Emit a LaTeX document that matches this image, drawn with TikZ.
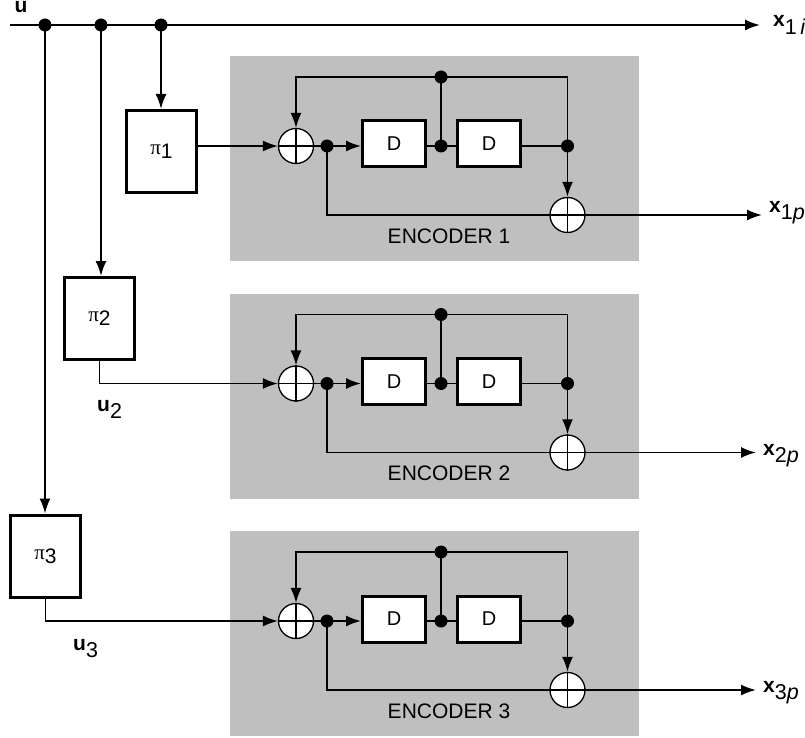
\documentclass[tikz,border=0pt]{standalone}
\usepackage{fontspec}
\setmainfont{Liberation Sans}
\newfontfamily\pifont{Liberation Serif}
\usetikzlibrary{arrows.meta}
\newcommand{\boldsub}[3]{\textbf{\fontsize{21}{21}\selectfont #1}\raisebox{-7.5pt}{\fontsize{21.5}{22}\selectfont #2\textit{#3}}}
\newcommand{\pisub}[1]{{\pifont\fontsize{21}{21}\selectfont\raisebox{.2em}{π}}{\fontsize{21}{21}\selectfont #1}}
\tikzset{
	blockbox/.style={draw,line width=3,fill=white,inner sep=0,text=black},
	interbox/.style={blockbox,minimum width=70,minimum height=82},
	delaybox/.style={blockbox,minimum width=63,minimum height=46,font=\fontsize{20}{20}\selectfont},
	sumnode/.style={draw,circle,line width=1.3,fill=white,minimum size=35,inner sep=0},
	wire/.style={line width=1.4},
	mainwire/.style={line width=1.9},
	outlabel/.style={anchor=base west,inner sep=0}
}
\begin{document}
\begin{tikzpicture}[x=1pt,y=-1pt,>={Latex[length=15,width=11]}]
	\useasboundingbox(0,0)rectangle(805,738);
	\coordinate(start)at(10,25);
	\coordinate(T1)at(161,25);
	\coordinate(T2)at(101,25);
	\coordinate(T3)at(45,25);
	\coordinate(end)at(760,25);
	\node[interbox](pi1)at(161.5,151.5){\pisub{1}};
	\node[interbox](pi2)at(99.5,318.5){\pisub{2}};
	\node[interbox](pi3)at(45.5,556){\pisub{3}};
	\foreach\i/\off/\tip in{1/0/762,2/237.5/756,3/475/756}{
		\begin{scope}[shift={(0,\off)}]
			\fill[black!25](230,56)rectangle(639,261);
			\node[sumnode](S\i)at(296,146){};
			\node[sumnode](R\i)at(567.5,215){};
			\node[delaybox](Da\i)at(394,144){D};
			\node[delaybox](Db\i)at(489,144){D};
			\coordinate(A\i)at(327,146);
			\coordinate(B\i)at(441,146);
			\coordinate(C\i)at(567.5,146);
			\coordinate(E\i)at(441,77);
			\coordinate(F\i)at(567.5,77);
			\coordinate(G\i)at(507,215);
			\coordinate(O\i)at(\tip,215);
			\node[font=\fontsize{21}{21}\selectfont](enc\i)at(449,236){ENCODER \i};
			%tap line and feedback
			\draw[wire](A\i)|-(G\i);
			\draw[wire,->](E\i)-|(S\i.north);
			\draw[wire](E\i)--(F\i)--(C\i);
			\draw[wire](E\i)--(B\i);
			\draw[wire](Da\i.east|-B\i)--(Db\i.west|-B\i);
			\draw[wire](Db\i.east|-C\i)--(C\i);
			\draw[wire](S\i.east)--(A\i);
			\draw[mainwire,->](C\i)--(R\i.north);
			\draw[mainwire,->](A\i)--(Da\i.west|-A\i);
			\draw[wire](S\i.north)--(S\i.south);
			\draw[wire](S\i.west)--(S\i.east);
			\draw[wire](R\i.north)--(R\i.south);
			\draw[mainwire,->](G\i)--(O\i);
			\foreach\p in{A\i,B\i,C\i,E\i}{\fill(\p)circle(6.5);}
		\end{scope}
	}
	\draw[mainwire,->](start)--(end);
	\draw[mainwire,->](T1)--(T1|-pi1.north);
	\draw[mainwire,->](T2)--(T2|-pi2.north);
	\draw[mainwire,->](T3)--(T3|-pi3.north);
	\draw[wire,->](pi1.east|-S1)--(S1.west);
	\draw[wire,->](pi2.south)|-(S2.west);
	\draw[wire,->](pi3.south)|-(S3.west);
	\foreach\p in{T1,T2,T3}{\fill(\p)circle(6.5);}
	\node[font=\bfseries\fontsize{21}{21}\selectfont,anchor=base,inner sep=0](u)at(21,12.5){u};
	\node[outlabel](u2)at(97,411){\boldsub{u}{2}{}};
	\node[outlabel](u3)at(73,650){\boldsub{u}{3}{}};
	\node[outlabel](x1i)at(773,27){\boldsub{x}{1}{\,i}};
	\node[outlabel](x1p)at(769,212){\boldsub{x}{1}{p}};
	\node[outlabel](x2p)at(763,455){\boldsub{x}{2}{p}};
	\node[outlabel](x3p)at(763,692){\boldsub{x}{3}{p}};
\end{tikzpicture}
\end{document}
